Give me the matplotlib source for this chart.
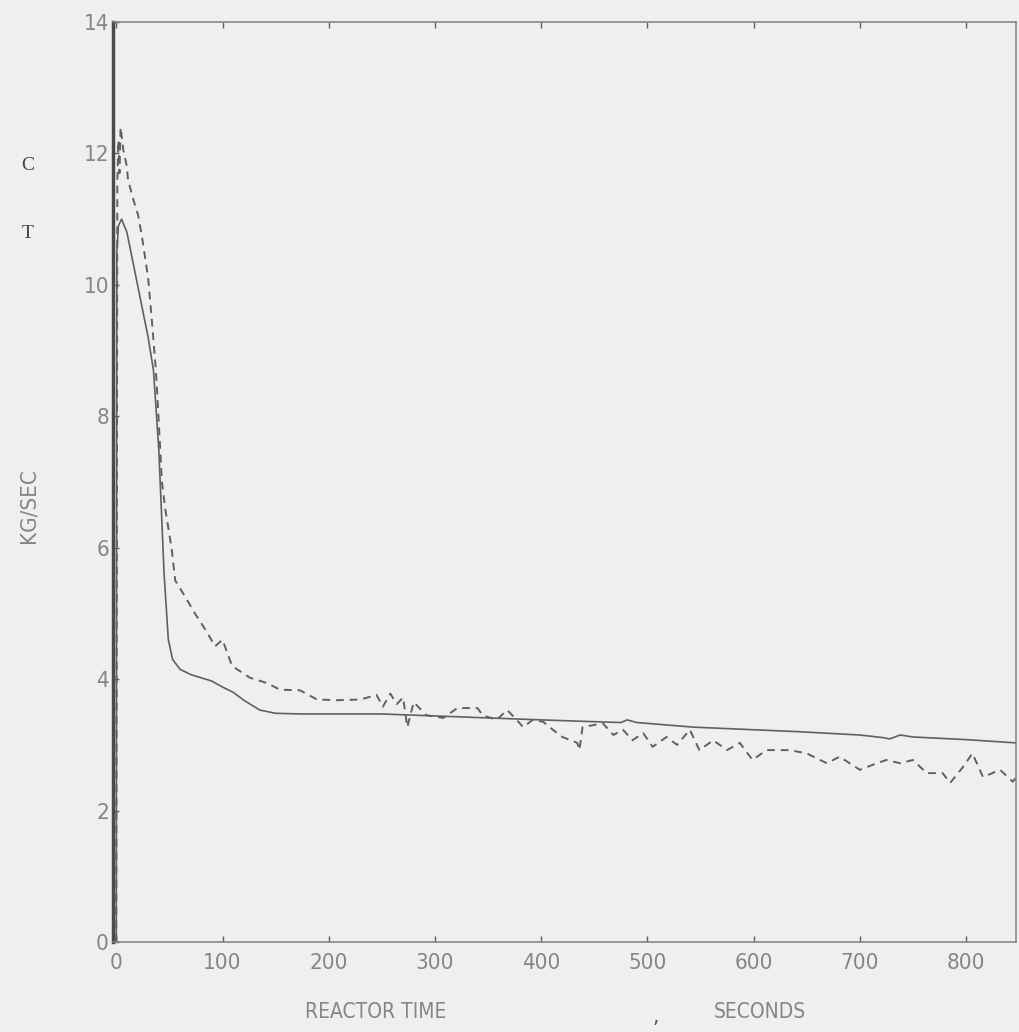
import matplotlib
matplotlib.use("Agg")
import matplotlib.pyplot as plt

# Solid curve (calculated flow)
solid_t = [0, 0.5, 2, 5, 10, 20, 30, 35, 40, 45, 49, 53, 60, 70, 80, 90, 100, 110,
           120, 135, 150, 175, 200, 250, 300, 350, 400, 455, 475, 481, 490, 543,
           600, 643, 700, 722, 728, 738, 750, 800, 847]
solid_v = [0, 10.5, 10.9, 11.0, 10.8, 10.0, 9.2, 8.7, 7.5, 5.6, 4.6, 4.3, 4.15, 4.07,
           4.02, 3.97, 3.88, 3.8, 3.68, 3.53, 3.48, 3.47, 3.47, 3.47, 3.44, 3.41, 3.38,
           3.35, 3.34, 3.38, 3.34, 3.27, 3.23, 3.2, 3.15, 3.11, 3.09, 3.15, 3.12, 3.08, 3.03]

# Dashed curve (measured flow)
dash_t = [0, 1, 2, 3, 4, 6.6, 10, 11, 16, 20.7, 24.5, 30, 34, 37, 38.5, 43, 46, 52,
          55.5, 65, 74, 84, 93, 100, 109, 126, 142, 154, 173, 189, 208, 230, 245, 251,
          258, 264, 270, 274, 280, 292, 308, 321, 340, 345, 358, 368, 377, 383, 392,
          402, 411, 420, 434, 436, 439, 449, 458, 468, 477, 486, 496, 505, 518, 528,
          540, 549, 562, 575, 587, 599, 612, 625, 634, 650, 669, 681, 700, 716, 725,
          738, 750, 763, 778, 785, 797, 806, 816, 832, 844, 847]
dash_v = [0, 11.6, 12.2, 11.7, 12.4, 12.05, 11.8, 11.6, 11.3, 11.05, 10.7, 10.1, 9.36,
          8.75, 8.36, 7.0, 6.6, 6.0, 5.5, 5.25, 5.0, 4.75, 4.5, 4.6, 4.2, 4.02, 3.94,
          3.84, 3.83, 3.69, 3.68, 3.69, 3.76, 3.58, 3.78, 3.62, 3.72, 3.27, 3.65, 3.45,
          3.41, 3.56, 3.56, 3.45, 3.38, 3.53, 3.38, 3.27, 3.38, 3.35, 3.23, 3.12, 3.03,
          2.92, 3.27, 3.3, 3.33, 3.15, 3.23, 3.07, 3.18, 2.97, 3.12, 3.0, 3.23, 2.92,
          3.07, 2.92, 3.03, 2.77, 2.92, 2.92, 2.92, 2.87, 2.72, 2.82, 2.62, 2.72, 2.77,
          2.72, 2.77, 2.57, 2.57, 2.42, 2.66, 2.87, 2.51, 2.62, 2.44, 2.5]

x_ticks = [0, 100, 200, 300, 400, 500, 600, 700, 800]
y_ticks = [0, 2, 4, 6, 8, 10, 12, 14]

paper = "#efefed"
ink = "#606060"
label_col = "#858585"
plt.rcParams['font.family'] = ['DejaVu Sans']
plt.rcParams['font.stretch'] = 'condensed'

fig = plt.figure(figsize=(10.19, 10.32), dpi=100, facecolor=paper)
ax = fig.add_axes([0.111, 0.0872, 0.886, 0.8915], facecolor=paper)

ax.plot(solid_t, solid_v, color=ink, lw=1.2)
ax.plot(dash_t, dash_v, color=ink, lw=1.4, dashes=(4, 3))

ax.set_xlim(-3, 847)
ax.set_ylim(0, 14)
ax.set_xticks(x_ticks)
ax.set_yticks(y_ticks)
ax.tick_params(direction='in', length=4, width=1, color=ink, labelcolor=label_col,
               labelsize=16, top=True, pad=8)
ax.tick_params(axis='y', pad=3)
for s in ax.spines.values():
    s.set_color("#808080")
    s.set_linewidth(1.1)
ax.spines['left'].set_color("#4a4a4a")
ax.spines['left'].set_linewidth(2.5)

fig.text(0.369, 0.019, "REACTOR TIME", ha='center', va='center', fontsize=15, color=label_col)
fig.text(0.643, 0.015, ",", ha='center', va='center', fontsize=16, color="#555555")
fig.text(0.746, 0.019, "SECONDS", ha='center', va='center', fontsize=15, color=label_col)
fig.text(0.028, 0.51, "KG/SEC", ha='center', va='center', rotation=90, fontsize=16, color=label_col)
fig.text(0.027, 0.84, "C", ha='center', va='center', fontsize=14, color="#444444", family='Liberation Serif')
fig.text(0.027, 0.774, "T", ha='center', va='center', fontsize=14, color="#444444", family='Liberation Serif')

fig.savefig("out.png", dpi=100, facecolor=paper)
